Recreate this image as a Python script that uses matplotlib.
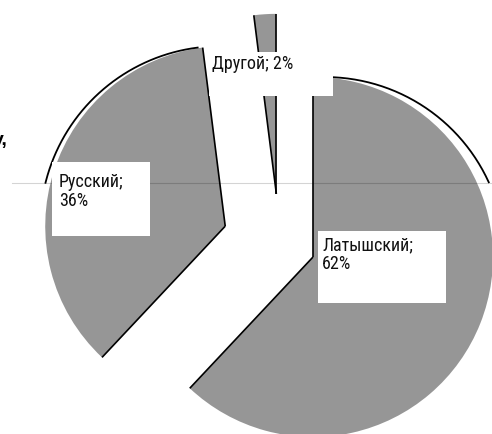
import numpy as np
import matplotlib
matplotlib.use('Agg')
import matplotlib.pyplot as plt
from matplotlib.patches import Rectangle

plt.rcParams['font.family'] = ['Roboto Condensed', 'PT Sans Narrow', 'DejaVu Sans']

# данные
labels = ['Латышский', 'Русский', 'Другой']
shares = [62, 36, 2]

# геометрия (в пикселях исходной картинки)
W, H = 492, 434
R_PX = 180.0
CX, CY = 279.5, 243.8       # центр круга до "взрыва"
HORIZON_PX = 183            # серая горизонтальная линия
EXPLODE = [0.20, 0.317, 0.278]
SHADOW_SHIFT = [0.067, -0.028, 0.0]   # сдвиг чёрной дуги по x
GRAY = '#969696'

# белые подложки подписей: (x0, y0, x1, y1) и позиция текста (x, y верх)
BOXES = [(318, 231, 446, 303), (52, 162, 150, 236), (209, 52, 333, 96)]
TEXT_POS = [(322, 236), (59, 173), (212, 55)]


def fx(x):
    return x / W


def fy(y):
    return 1 - y / H


def main():
    fig = plt.figure(figsize=(W / 100, H / 100), dpi=100)
    ax = fig.add_axes([0, 0, 1, 1])
    wedges, _ = ax.pie(shares, explode=EXPLODE, startangle=90, counterclock=False,
                       colors=[GRAY] * len(shares), wedgeprops=dict(linewidth=0))
    ax.set_xlim(-CX / R_PX, (W - CX) / R_PX)
    ax.set_ylim((CY - H) / R_PX, CY / R_PX)
    ax.set_aspect('equal')
    ax.axis('off')

    hz = (CY - HORIZON_PX) / R_PX

    for w, shift in zip(wedges, SHADOW_SHIFT):
        cx, cy = w.center
        r = w.r
        # радиальные края
        for t in (w.theta1, w.theta2):
            a = np.radians(t)
            ax.plot([cx, cx + r * np.cos(a)], [cy, cy + r * np.sin(a)],
                    color='black', lw=1.2, solid_capstyle='butt', zorder=3)
        # "тень" — дуга выше горизонта
        if shift != 0:
            tt = np.radians(np.linspace(w.theta1, w.theta2, 400))
            xs = cx + shift + r * np.cos(tt)
            ys = cy + r * np.sin(tt)
            ys = np.where(ys >= hz, ys, np.nan)
            ax.plot(xs, ys, color='black', lw=1.3, zorder=3)

    ax.axhline(hz, xmin=12 / W, xmax=1, color='black', alpha=0.17, lw=0.8, zorder=4)

    for (x0, y0, x1, y1), (tx, ty), lab, v in zip(BOXES, TEXT_POS, labels, shares):
        fig.add_artist(Rectangle((fx(x0), fy(y1)), fx(x1 - x0), (y1 - y0) / H,
                                 transform=fig.transFigure, facecolor='white',
                                 edgecolor='none', zorder=5))
        sep = ' ' if v < 5 else '\n'
        fig.text(fx(tx), fy(ty), f'{lab};{sep}{v}%', ha='left', va='top',
                 fontsize=13, color='#111111', linespacing=1.1, zorder=6)

    # обрезанный кусок текста документа слева
    fig.text(fx(8), fy(145), 'у,', ha='right', va='baseline', fontsize=14,
             fontweight='bold', family=['Liberation Sans', 'DejaVu Sans'])

    fig.savefig('out.png', dpi=100)


if __name__ == '__main__':
    main()
